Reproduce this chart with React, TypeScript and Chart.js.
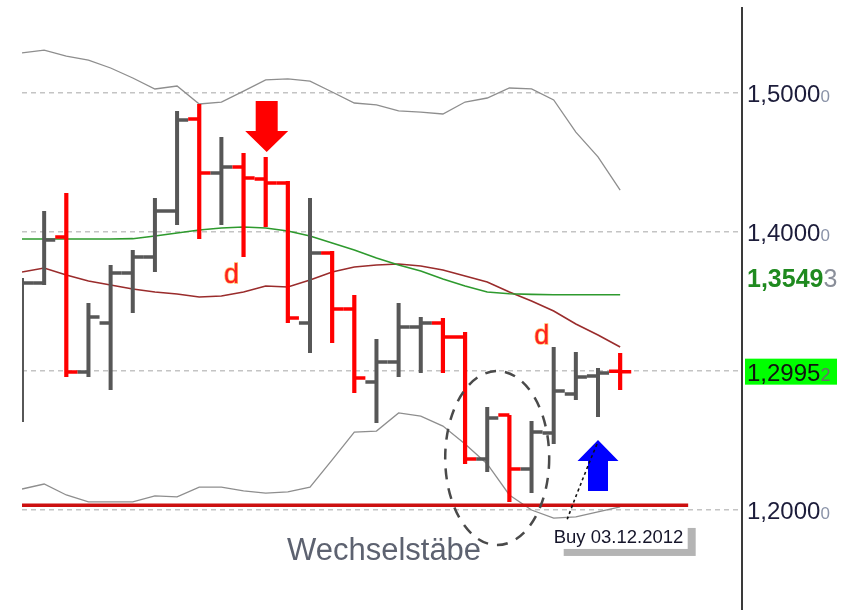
import React, { useEffect, useRef } from "react";
import { Chart, registerables } from "chart.js";
Chart.register(...registerables);

// ---- data ----
const barIndex = [0, 1, 2, 3, 4, 5, 6, 7, 8, 9, 10, 11, 12, 13, 14, 15, 16, 17, 18, 19, 20, 21, 22, 23, 24, 25, 26, 27];
const opens = [1.2900, 1.3633, 1.3964, 1.2993, 1.3345, 1.3705, 1.3820, 1.4151, 1.4813, 1.4424, 1.4468, 1.4381, 1.4353, 1.3345, 1.3849, 1.3446, 1.2921, 1.3065, 1.3317, 1.3345, 1.3245, 1.2367, 1.2683, 1.2295, 1.2554, 1.2835, 1.2964, 1.2998];
const highs = [1.3669, 1.4151, 1.4281, 1.3489, 1.3763, 1.3871, 1.4245, 1.4871, 1.4921, 1.4683, 1.4568, 1.4540, 1.4367, 1.4245, 1.3863, 1.3547, 1.3230, 1.3489, 1.3388, 1.3381, 1.3281, 1.2741, 1.2683, 1.2640, 1.3173, 1.3137, 1.3022, 1.3129];
const lows = [1.2633, 1.3619, 1.2957, 1.2957, 1.2863, 1.3417, 1.3712, 1.4050, 1.3950, 1.4050, 1.3820, 1.4036, 1.3345, 1.3129, 1.3201, 1.2842, 1.2626, 1.2957, 1.2986, 1.2986, 1.2331, 1.2273, 1.2058, 1.2122, 1.2475, 1.2791, 1.2669, 1.2863];
const closes = [1.3633, 1.3942, 1.2993, 1.3388, 1.3705, 1.3820, 1.4151, 1.4806, 1.4424, 1.4468, 1.4388, 1.4353, 1.3381, 1.3849, 1.3446, 1.2950, 1.3065, 1.3317, 1.3345, 1.3245, 1.2367, 1.2662, 1.2295, 1.2561, 1.2856, 1.2957, 1.2986, 1.2995];
const maLong = [1.3950, 1.3950, 1.3950, 1.3950, 1.3950, 1.3952, 1.3971, 1.3993, 1.4014, 1.4029, 1.4036, 1.4029, 1.4007, 1.3971, 1.3921, 1.3871, 1.3813, 1.3763, 1.3719, 1.3662, 1.3612, 1.3568, 1.3556, 1.3551, 1.3549, 1.3549, 1.3549, 1.3549];
const maShort = [1.3712, 1.3741, 1.3691, 1.3647, 1.3619, 1.3590, 1.3568, 1.3554, 1.3532, 1.3540, 1.3568, 1.3612, 1.3604, 1.3655, 1.3712, 1.3748, 1.3763, 1.3770, 1.3755, 1.3727, 1.3683, 1.3640, 1.3568, 1.3504, 1.3432, 1.3338, 1.3259, 1.3173];
const bandUpper = [1.5288, 1.5309, 1.5266, 1.5237, 1.5180, 1.5108, 1.5029, 1.5050, 1.4921, 1.4935, 1.5014, 1.5094, 1.5101, 1.5086, 1.5007, 1.4928, 1.4914, 1.4871, 1.4863, 1.4849, 1.4935, 1.4964, 1.5036, 1.5029, 1.4950, 1.4719, 1.4540, 1.4302];
const bandLower = [1.2151, 1.2187, 1.2108, 1.2058, 1.2058, 1.2058, 1.2101, 1.2094, 1.2165, 1.2165, 1.2137, 1.2122, 1.2130, 1.2165, 1.2360, 1.2561, 1.2568, 1.2698, 1.2676, 1.2604, 1.2475, 1.2331, 1.2108, 1.2000, 1.1942, 1.1950, 1.1986, 1.2022];
const gridLevels = [1.2, 1.3, 1.4, 1.5];
const lastPrice = 1.29952;
const maLongLast = 1.35493;
const supportLevel = 1.2035;
const supportEndBar = 30.07;
const dMarkerBars = [10, 24];
const dMarkerPrices = [1.3633, 1.3194];
const sellArrowBar = 11;
const sellArrowPrice = 1.4576;
const buyArrowBar = 26;
const buyArrowPrice = 1.2504;
const patternLabel = "Wechselstäbe";
const patternCenterBar = 21.45;
const patternCenterPrice = 1.2374;
const patternTextBar = 11.96;
const patternTextPrice = 1.1640;
const buyLabel = "Buy 03.12.2012";
const buyLabelBar = 24;
const buyLabelPrice = 1.1763;

// ---- styling ----
const GRAY = "#575757";
const RED = "#ff0000";
const FONT = "'Liberation Sans', Arial, sans-serif";

const isUp = (i: number) => closes[i] >= opens[i];

function ohlcPart(up: boolean, part: "hl" | "o" | "c") {
  const pts: any[] = [];
  barIndex.forEach((b, i) => {
    if (isUp(i) !== up) return;
    if (part === "hl") pts.push({ x: b, y: lows[i] }, { x: b, y: highs[i] });
    else if (part === "o") pts.push({ x: b - 0.5, y: opens[i] }, { x: b, y: opens[i] });
    else pts.push({ x: b, y: closes[i] }, { x: b + 0.5, y: closes[i] });
    pts.push({ x: b, y: null });
  });
  return pts;
}

const series = (vals: number[]) => barIndex.map((b, i) => ({ x: b, y: vals[i] }));

function lineDs(data: any[], color: string, width: number, extra: any = {}) {
  return {
    data,
    borderColor: color,
    backgroundColor: color,
    borderWidth: width,
    pointRadius: 0,
    fill: false,
    tension: 0,
    spanGaps: false,
    ...extra,
  };
}

function splitLabel(ctx: CanvasRenderingContext2D, x: number, base: number, value: number, mainFont: string, tailFont: string, mainColor: string, tailColor: string) {
  const s = value.toFixed(5).replace(".", ",");
  const main = s.slice(0, -1);
  const tail = s.slice(-1);
  ctx.font = mainFont;
  ctx.fillStyle = mainColor;
  ctx.textAlign = "left";
  ctx.textBaseline = "alphabetic";
  ctx.fillText(main, x, base);
  const w = ctx.measureText(main).width;
  ctx.font = tailFont;
  ctx.fillStyle = tailColor;
  ctx.fillText(tail, x + w, base);
}

const overlay = {
  id: "overlay",
  afterDatasetsDraw(chart: any) {
    const ctx: CanvasRenderingContext2D = chart.ctx;
    const xs = chart.scales.x;
    const ys = chart.scales.y;
    ctx.save();

    // d markers
    ctx.font = `27px ${FONT}`;
    ctx.textAlign = "center";
    ctx.textBaseline = "alphabetic";
    dMarkerBars.forEach((b, k) => {
      const x = xs.getPixelForValue(b) - 12;
      const y = ys.getPixelForValue(dMarkerPrices[k]);
      ctx.lineWidth = 1.5;
      ctx.strokeStyle = "rgba(255,170,60,0.8)";
      ctx.strokeText("d", x, y);
      ctx.fillStyle = "#ff2020";
      ctx.fillText("d", x, y);
    });

    // sell arrow (down)
    {
      const tx = xs.getPixelForValue(sellArrowBar) + 1;
      const ty = ys.getPixelForValue(sellArrowPrice);
      ctx.fillStyle = "#ff0000";
      ctx.beginPath();
      ctx.moveTo(tx - 11, ty - 51);
      ctx.lineTo(tx + 11, ty - 51);
      ctx.lineTo(tx + 11, ty - 21);
      ctx.lineTo(tx + 21.5, ty - 21);
      ctx.lineTo(tx, ty);
      ctx.lineTo(tx - 21.5, ty - 21);
      ctx.lineTo(tx - 11, ty - 21);
      ctx.closePath();
      ctx.fill();
    }
    // buy arrow (up)
    {
      const tx = xs.getPixelForValue(buyArrowBar);
      const ty = ys.getPixelForValue(buyArrowPrice);
      ctx.fillStyle = "#0000ff";
      ctx.beginPath();
      ctx.moveTo(tx, ty);
      ctx.lineTo(tx + 20.5, ty + 21);
      ctx.lineTo(tx + 10, ty + 21);
      ctx.lineTo(tx + 10, ty + 51);
      ctx.lineTo(tx - 10, ty + 51);
      ctx.lineTo(tx - 10, ty + 21);
      ctx.lineTo(tx - 20.5, ty + 21);
      ctx.closePath();
      ctx.fill();

      // dotted connector to label
      ctx.strokeStyle = "#111";
      ctx.lineWidth = 1.6;
      ctx.setLineDash([3, 3]);
      ctx.beginPath();
      ctx.moveTo(tx - 1, ty + 4);
      ctx.quadraticCurveTo(tx - 20, ty + 50, tx - 31, ty + 80);
      ctx.stroke();
      ctx.setLineDash([]);
    }

    // dashed ellipse
    {
      const cx = xs.getPixelForValue(patternCenterBar);
      const cy = ys.getPixelForValue(patternCenterPrice);
      ctx.strokeStyle = "#4a4a4a";
      ctx.lineWidth = 2.5;
      ctx.setLineDash([11, 9]);
      ctx.beginPath();
      ctx.ellipse(cx, cy, 52, 87, 0, 0, Math.PI * 2);
      ctx.stroke();
      ctx.setLineDash([]);
    }

    // pattern label
    {
      const x = xs.getPixelForValue(patternTextBar);
      const y = ys.getPixelForValue(patternTextPrice);
      ctx.font = `31px ${FONT}`;
      ctx.textAlign = "left";
      ctx.fillStyle = "#5d6270";
      ctx.fillText(patternLabel, x, y);
    }

    // buy label box
    {
      const x = xs.getPixelForValue(buyLabelBar);
      const y = ys.getPixelForValue(buyLabelPrice);
      ctx.fillStyle = "#b4b4b4";
      ctx.fillRect(x + 10, y - 15, 132, 28);
      ctx.fillStyle = "#ffffff";
      ctx.fillRect(x - 2, y - 22, 136, 28);
      ctx.font = `18.5px ${FONT}`;
      ctx.fillStyle = "#15152a";
      ctx.textAlign = "left";
      ctx.fillText(buyLabel, x, y);
    }
    ctx.restore();
  },
  afterDraw(chart: any) {
    const ctx: CanvasRenderingContext2D = chart.ctx;
    const ys = chart.scales.y;
    const lx = ys.left + 5;
    ctx.save();
    gridLevels.forEach((v) => {
      const py = ys.getPixelForValue(v);
      splitLabel(ctx, lx, py + 9, v, `24px ${FONT}`, `17px ${FONT}`, "#1c1c3a", "#8a93a8");
    });
    // long MA value label
    {
      const py = ys.getPixelForValue(maLongLast);
      splitLabel(ctx, lx, py - 8, maLongLast, `bold 25px ${FONT}`, `25px ${FONT}`, "#1f8a1f", "#8a8f9a");
    }
    // last price box
    {
      const py = ys.getPixelForValue(lastPrice);
      ctx.fillStyle = "#00ff00";
      ctx.fillRect(ys.left + 3, py - 13, 92, 26);
      splitLabel(ctx, lx, py + 9, lastPrice, `24px ${FONT}`, `18px ${FONT}`, "#111111", "#6a6a6a");
    }
    ctx.restore();
  },
};

export default function App() {
  const ref = useRef<HTMLCanvasElement>(null);
  useEffect(() => {
    const datasets: any[] = [
      lineDs(ohlcPart(false, "o"), RED, 3.5, { clip: 0, borderCapStyle: "butt" }),
      lineDs(ohlcPart(false, "c"), RED, 3.5, { clip: 0, borderCapStyle: "butt" }),
      lineDs(ohlcPart(false, "hl"), RED, 4.2, { clip: 0, borderCapStyle: "butt" }),
      lineDs(ohlcPart(true, "o"), GRAY, 3.5, { clip: 0, borderCapStyle: "butt" }),
      lineDs(ohlcPart(true, "c"), GRAY, 3.5, { clip: 0, borderCapStyle: "butt" }),
      lineDs(ohlcPart(true, "hl"), GRAY, 4, { clip: 0, borderCapStyle: "butt" }),
      lineDs([{ x: 0, y: supportLevel }, { x: supportEndBar, y: supportLevel }], "#cc1010", 3.5, { clip: 0 }),
      lineDs(series(maLong), "#2e9a2e", 1.6),
      lineDs(series(maShort), "#9a2c2c", 1.6),
      lineDs(series(bandUpper), "#8e8e8e", 1.3),
      lineDs(series(bandLower), "#8e8e8e", 1.3),
    ];
    const chart = new Chart(ref.current as HTMLCanvasElement, {
      type: "line",
      data: { datasets },
      options: {
        animation: false,
        responsive: false,
        maintainAspectRatio: false,
        events: [],
        parsing: true,
        layout: { padding: { left: 22, top: 8, right: 0, bottom: 0 } },
        plugins: { legend: { display: false }, tooltip: { enabled: false }, title: { display: false } },
        scales: {
          x: { type: "linear", min: 0, max: 32.5, display: false },
          y: {
            type: "linear",
            position: "right",
            min: 1.12806,
            max: 1.56115,
            afterBuildTicks: (s: any) => {
              s.ticks = gridLevels.map((v) => ({ value: v }));
            },
            afterFit: (s: any) => {
              s.width = 114;
            },
            ticks: { display: false },
            grid: { color: "#c4c4c4", lineWidth: 1.5, drawTicks: false },
            border: { display: true, color: "#3a3a3a", width: 2, dash: [5, 4] },
          },
        },
      } as any,
      plugins: [overlay as any],
    });
    return () => chart.destroy();
  }, []);
  return (
    <div style={{ position: "absolute", left: 0, top: 0, width: 856, height: 610, background: "#fff" }}>
      <canvas ref={ref} width={856} height={610} style={{ display: "block" }} />
    </div>
  );
}
